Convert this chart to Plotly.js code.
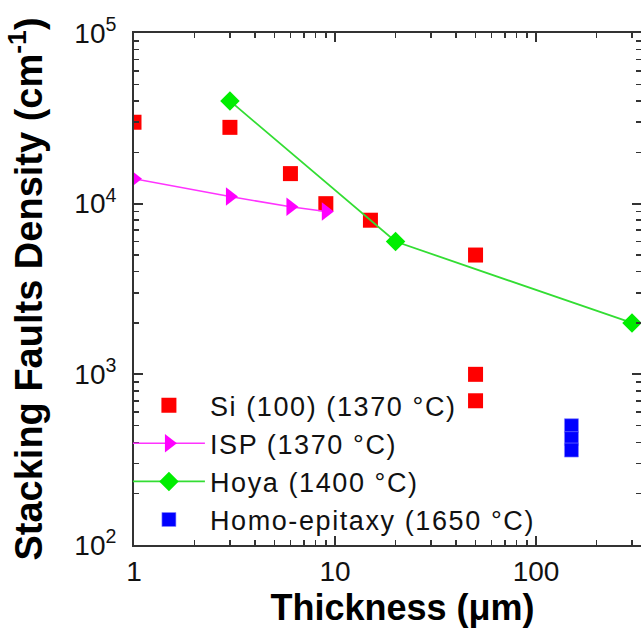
<!DOCTYPE html>
<html>
<head>
<meta charset="utf-8">
<script src="https://cdn.plot.ly/plotly-3.0.1.min.js"></script>
<style>
html,body{margin:0;padding:0;background:#fff;overflow:hidden;}
#chart{width:641px;height:634px;}
.legendtext{letter-spacing:1.6px;}
</style>
</head>
<body>
<div id="chart"></div>
<script>
// ---- data ----
const siX = [1, 3, 6, 9, 15, 50, 50, 50];
const siY = [30000, 28000, 15000, 10000, 8000, 5000, 1000, 700];

const ispX = [1, 3, 6, 9];
const ispY = [14000, 11000, 9600, 9000];

const hoyaX = [3, 20, 300];
const hoyaY = [40000, 6000, 2000];

const homoX = [150, 150, 150];
const homoY = [500, 420, 360];

const seriesNames = ["Si (100) (1370 °C)", "ISP (1370 °C)", "Hoya (1400 °C)", "Homo-epitaxy (1650 °C)"];

const xTickVals = [1, 10, 100];
const xTickText = ["1", "10", "100"];
const yTickVals = [100, 1000, 10000, 100000];
const yTickText = ["10<sup>2</sup>", "10<sup>3</sup>", "10<sup>4</sup>", "10<sup>5</sup>"];

// minor tick positions (2..9 within each decade)
function minorTicks(lo, hi) {
  const out = [];
  for (let e = lo; e < hi; e++) for (let m = 2; m <= 9; m++) out.push(m * Math.pow(10, e));
  return out;
}

const FONT = "Liberation Sans, Arial, sans-serif";
const AX = "#333333";

const traces = [
  {x: siX, y: siY, name: seriesNames[0], type: "scatter", mode: "markers",
   marker: {symbol: "square", size: 15, color: "#ff0000", line: {width: 0}}},
  {x: ispX, y: ispY, name: seriesNames[1], type: "scatter", mode: "lines+markers",
   line: {color: "#ff33ff", width: 1.5},
   marker: {symbol: "triangle-right", size: 16, color: "#ff00ff"}},
  {x: hoyaX, y: hoyaY, name: seriesNames[2], type: "scatter", mode: "lines+markers",
   line: {color: "#33dd33", width: 1.8},
   marker: {symbol: "diamond", size: 15, color: "#00ee00"}},
  {x: homoX, y: homoY, name: seriesNames[3], type: "scatter", mode: "markers",
   marker: {symbol: "square", size: 14, color: "#0000ff", line: {width: 0.6, color: "#8888ff"}}}
];

const layout = {
  width: 641, height: 634,
  margin: {l: 134, r: 0, t: 33, b: 89},
  paper_bgcolor: "#ffffff", plot_bgcolor: "#ffffff",
  font: {family: FONT, color: "#111111"},
  showlegend: true,
  legend: {
    x: -0.012, y: 0.32, xanchor: "left", yanchor: "top",
    bgcolor: "rgba(0,0,0,0)", borderwidth: 0,
    font: {family: FONT, size: 27, color: "#111111"},
    itemwidth: 72, tracegroupgap: 0
  },
  xaxis: {
    type: "log", range: [0, 2.522],
    tickmode: "array", tickvals: xTickVals, ticktext: xTickText,
    ticks: "inside", ticklen: 9, tickwidth: 2, tickcolor: AX,
    showline: true, linecolor: AX, linewidth: 2, mirror: "ticks",
    showgrid: false, zeroline: false,
    tickfont: {family: FONT, size: 28, color: "#111111"},
    minor: {tickmode: "array", tickvals: minorTicks(0, 3), ticks: "inside", ticklen: 5, tickwidth: 1.5, tickcolor: AX, showgrid: false},
    title: {text: "<b>&nbsp;&nbsp;&nbsp;Thickness (μm)</b>", font: {family: FONT, size: 36, color: "#000"}, standoff: 5},
    automargin: false
  },
  yaxis: {
    type: "log", range: [2, 5],
    tickmode: "array", tickvals: yTickVals, ticktext: yTickText,
    ticks: "inside", ticklen: 9, tickwidth: 2, tickcolor: AX,
    showline: true, linecolor: AX, linewidth: 2, mirror: "ticks",
    showgrid: false, zeroline: false, ticklabelstandoff: 10,
    tickfont: {family: FONT, size: 28, color: "#111111"},
    minor: {tickmode: "array", tickvals: minorTicks(2, 5), ticks: "inside", ticklen: 5, tickwidth: 1.5, tickcolor: AX, showgrid: false},
    title: {text: "<b>Stacking Faults Density (cm<sup>-1</sup>)</b>", font: {family: FONT, size: 38, color: "#000"}, standoff: 20},
    automargin: false
  }
};

Plotly.newPlot("chart", traces, layout, {staticPlot: true, displayModeBar: false});
</script>
</body>
</html>
